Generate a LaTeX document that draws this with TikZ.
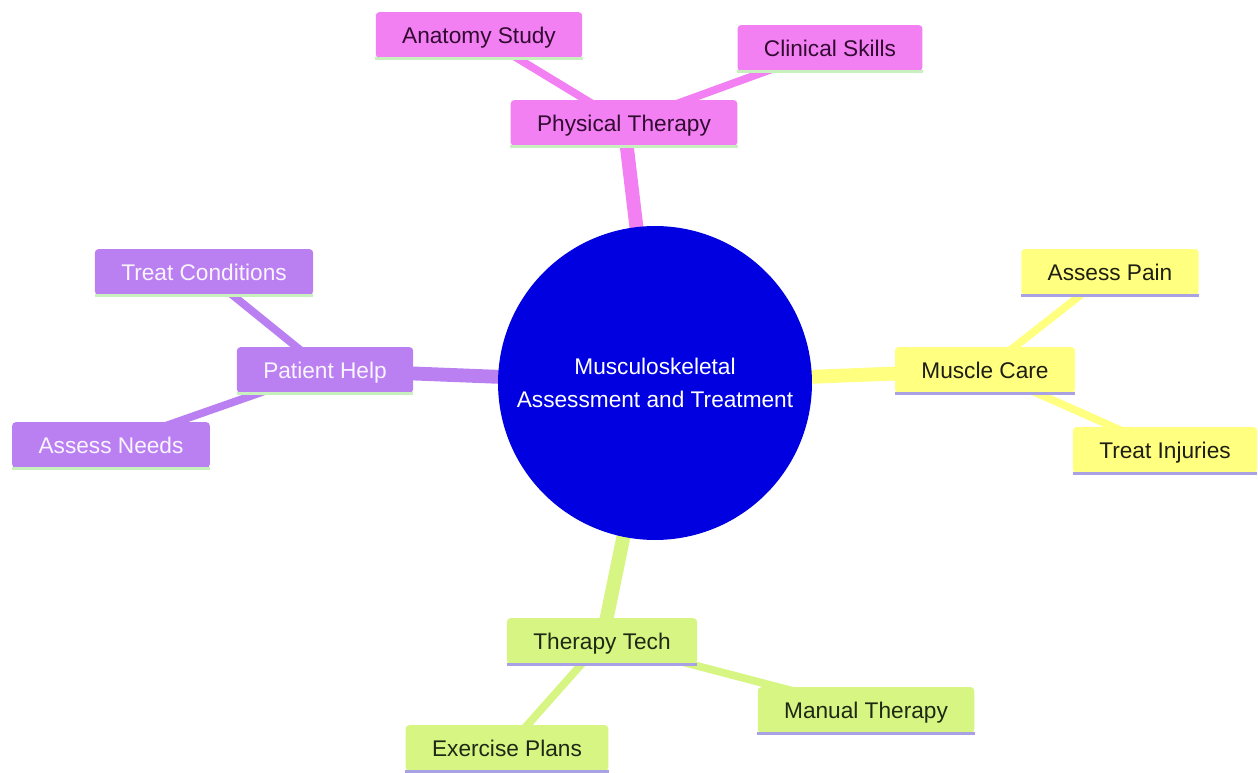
\documentclass[tikz,border=0pt]{standalone}
\usepackage{fontspec}
\setmainfont{Liberation Sans}
\usetikzlibrary{backgrounds}
\definecolor{ptfill}{RGB}{242,128,242}
\definecolor{phfill}{RGB}{186,128,242}
\definecolor{mcfill}{RGB}{255,255,128}
\definecolor{ttfill}{RGB}{214,245,130}
\definecolor{hubblue}{RGB}{0,0,224}
\definecolor{greenrim}{RGB}{200,240,190}
\definecolor{lavrim}{RGB}{168,162,228}
\tikzset{
  box/.style={rectangle, rounded corners=2pt, inner xsep=15pt, inner ysep=0pt,
    minimum height=26pt, text height=11.5pt, text depth=2pt,
    font=\fontsize{12.9}{15}\selectfont},
  ptbox/.style={box, fill=ptfill, text={rgb,255:red,50;green,10;blue,50}},
  phbox/.style={box, fill=phfill, text={rgb,255:red,250;green,245;blue,255}},
  mcbox/.style={box, fill=mcfill, text={rgb,255:red,30;green,30;blue,20}},
  ttbox/.style={box, fill=ttfill, text={rgb,255:red,30;green,40;blue,20}},
  trunk/.style={line width=7.9pt},
  twig/.style={line width=4.4pt},
  rim/.style={line width=1.8pt}
}
\begin{document}
\begin{tikzpicture}[x=0.02cm, y=-0.02cm]
	\useasboundingbox (0,0) rectangle (1258,773);
	% hub
	\node [circle, fill=hubblue, minimum size=6.28cm, align=center, text=white,
		font=\fontsize{12.9}{18.7}\selectfont] (hub) at (655,383)
		{Musculoskeletal\\Assessment and Treatment};
	% sections
	\node [ptbox] (phys) at (624,123) {Physical Therapy};
	\node [ptbox] (anat) at (479,35) {Anatomy Study};
	\node [ptbox] (clin) at (830,48) {Clinical Skills};
	\node [mcbox] (musc) at (985,370) {Muscle Care};
	\node [mcbox] (pain) at (1110,272) {Assess Pain};
	\node [mcbox] (inj) at (1165,450) {Treat Injuries};
	\node [ttbox] (tech) at (602,641) {Therapy Tech};
	\node [ttbox] (exer) at (507,748) {Exercise Plans};
	\node [ttbox] (manu) at (866,710) {Manual Therapy};
	\node [phbox] (help) at (325,370) {Patient Help};
	\node [phbox] (cond) at (204,272) {Treat Conditions};
	\node [phbox] (need) at (111,445) {Assess Needs};
	% rims
	\foreach \n in {phys, anat, clin, help, cond, need}
		\draw [rim, greenrim] (\n.south west) -- (\n.south east);
	\foreach \n in {musc, pain, inj, tech, exer, manu}
		\draw [rim, lavrim] (\n.south west) -- (\n.south east);
	% branches
	\begin{pgfonlayer}{background}
		\foreach \a/\b/\c in {hub/phys/ptfill, hub/musc/mcfill, hub/tech/ttfill, hub/help/phfill}
			\draw [trunk, draw=\c] (\a.center) -- (\b.center);
		\foreach \a/\b/\c in {phys/anat/ptfill, phys/clin/ptfill, musc/pain/mcfill, musc/inj/mcfill,
			tech/exer/ttfill, tech/manu/ttfill, help/cond/phfill, help/need/phfill}
			\draw [twig, draw=\c] (\a.center) -- (\b.center);
	\end{pgfonlayer}
\end{tikzpicture}
\end{document}
